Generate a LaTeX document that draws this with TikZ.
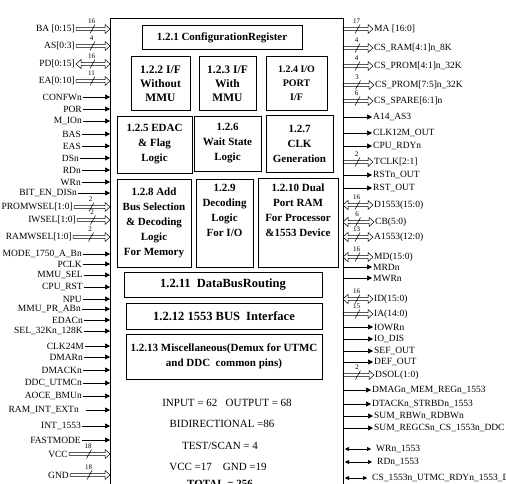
\documentclass[tikz,border=0pt]{standalone}
\usepackage{fontspec}
\setmainfont{Liberation Serif}
\usetikzlibrary{arrows.meta,calc}
\begin{document}
\begin{tikzpicture}[x=1pt,y=-1pt,
  lbl/.style={font=\fontsize{9.5}{10}\selectfont, inner sep=1pt, anchor=east},
  rlbl/.style={font=\fontsize{9.5}{10}\selectfont, inner sep=1pt, anchor=west},
  busnum/.style={font=\fontsize{7}{7}\selectfont, inner sep=0pt},
  sigarr/.style={line width=0.6pt, -{Triangle[length=5pt,width=5pt]}},
  bidarr/.style={line width=0.6pt, {Triangle[length=4pt,width=4pt]}-{Triangle[length=4pt,width=4pt]}},
  bus/.style={line width=0.5pt, to path={let \p1=(\tikztostart), \p2=(\tikztotarget) in
    (\x1,\y1+1.4pt) -- (\x2-5pt,\y1+1.4pt) -- (\x2-5pt,\y1+4.5pt) -- (\x2,\y1) -- (\x2-5pt,\y1-4.5pt) -- (\x2-5pt,\y1-1.4pt) -- (\x1,\y1-1.4pt) -- cycle
    (\x1/2+\x2/2-3pt,\y1-4.5pt) -- (\x1/2+\x2/2+2pt,\y1+4.5pt)
    (\x1/2+\x2/2-1.5pt,\y1+7.5pt) node[busnum]{#1}}},
  bbus/.style={line width=0.5pt, to path={let \p1=(\tikztostart), \p2=(\tikztotarget) in
    (\x1,\y1) -- (\x1+5pt,\y1+4.5pt) -- (\x1+5pt,\y1+1.4pt) -- (\x2-5pt,\y1+1.4pt) -- (\x2-5pt,\y1+4.5pt) -- (\x2,\y1) -- (\x2-5pt,\y1-4.5pt) -- (\x2-5pt,\y1-1.4pt) -- (\x1+5pt,\y1-1.4pt) -- (\x1+5pt,\y1-4.5pt) -- cycle
    (\x1/2+\x2/2-3pt,\y1-4.5pt) -- (\x1/2+\x2/2+2pt,\y1+4.5pt)
    (\x1/2+\x2/2-1.5pt,\y1+7.5pt) node[busnum]{#1}}},
  blk/.style={draw, line width=0.6pt, inner sep=0pt, outer sep=0pt, align=center, font=\bfseries\fontsize{11}{15}\selectfont},
  btxt/.style={inner sep=0pt, align=center, font=\bfseries\fontsize{11}{15}\selectfont},
  info/.style={font=\fontsize{11}{12}\selectfont, inner sep=0pt}
]
\useasboundingbox (0,0) rectangle (506,484);

% outer chip box
\node[draw, line width=0.8pt, inner sep=0pt, outer sep=0pt, minimum width=233pt, minimum height=520pt, anchor=north west] (chip) at (110,18) {};

% inner blocks
\node[blk, minimum width=160pt, minimum height=24pt] (b1) at (222,37.5) {1.2.1 ConfigurationRegister};
\node[blk, font=\bfseries\fontsize{11.5}{14}\selectfont, minimum width=59pt, minimum height=54pt] (b2) at (160.5,83.5) {1.2.2 I/F\\Without\\MMU};
\node[blk, font=\bfseries\fontsize{11.5}{14}\selectfont, minimum width=57pt, minimum height=54pt] (b3) at (227.5,83.5) {1.2.3 I/F\\With\\MMU};
\node[blk, font=\bfseries\fontsize{10}{14}\selectfont, minimum width=61pt, minimum height=54pt] (b4) at (296.5,83.5) {1.2.4 I/O\\PORT\\I/F};
\node[blk, line width=0.9pt, minimum width=75pt, minimum height=57pt] (b5) at (154.5,144.5) {1.2.5 EDAC\\\& Flag\\Logic};
\node[blk, minimum width=67pt, minimum height=55pt] (b6) at (227.5,143.5) {1.2.6\\Wait State\\Logic};
\node[blk, minimum width=67pt, minimum height=57pt] (b7) at (299.5,143.5) {1.2.7\\CLK\\Generation};
\node[blk, minimum width=74pt, minimum height=88pt] (b8) at (154,223) {1.2.8 Add\\Bus Selection\\\& Decoding\\Logic\\For Memory};
\node[blk, minimum width=57pt, minimum height=88pt] (b9) at (224.5,223) {};
\node[btxt, anchor=north] (t9) at (224.5,184) {1.2.9\\Decoding\\Logic\\For I/O};
\node[blk, minimum width=80pt, minimum height=89pt] (b10) at (298,222.5) {};
\node[btxt, anchor=north] (t10) at (298,184) {1.2.10 Dual\\Port RAM\\For Processor\\\&1553 Device};
\node[blk, font=\bfseries\fontsize{12.5}{15}\selectfont, minimum width=198pt, minimum height=25pt] (b11) at (223,284.5) {1.2.11\ \ DataBusRouting};
\node[blk, font=\bfseries\fontsize{12.5}{15}\selectfont, minimum width=196pt, minimum height=26pt] (b12) at (224,316) {1.2.12 1553 BUS\ \ Interface};
\node[blk, minimum width=196pt, minimum height=45pt] (b13) at (224,356.5) {1.2.13 Miscellaneous(Demux for UTMC\\and DDC\ \ common pins)};

% summary text
\node[info] (i1) at (227,403) {INPUT = 62\ \ \ OUTPUT = 68};
\node[info] (i2) at (222,424) {BIDIRECTIONAL =86};
\node[info] (i3) at (220,446) {TEST/SCAN = 4};
\node[info] (i4) at (218,467) {VCC =17\ \ \ \ GND =19};
\node[info, font=\bfseries\fontsize{11}{12}\selectfont] (i5) at (220,484) {TOTAL = 256};

% left signals
\node[lbl] (ba) at (76,29) {BA [0:15]};
\node[lbl] (as) at (76,46) {AS[0:3]};
\node[lbl] (pd) at (76,64) {PD[0:15]};
\node[lbl] (ea) at (76,81) {EA[0:10]};
\node[lbl] (confw) at (83,97) {CONFWn};
\node[lbl] (por) at (83,109) {POR};
\node[lbl] (mio) at (83,121) {M\_IOn};
\node[lbl] (bas) at (82,134) {BAS};
\node[lbl] (eas) at (82,146) {EAS};
\node[lbl] (dsn) at (80,158) {DSn};
\node[lbl] (rdn) at (82,170) {RDn};
\node[lbl] (wrn) at (82,182) {WRn};
\node[lbl] (biten) at (78,193) {BIT\_EN\_DISn};
\node[lbl] (promw) at (74,207) {PROMWSEL[1:0]};
\node[lbl] (iwsel) at (77,220) {IWSEL[1:0]};
\node[lbl] (ramw) at (73,237) {RAMWSEL[1:0]};
\node[lbl] (mode) at (83,254) {MODE\_1750\_A\_Bn};
\node[lbl] (pclk) at (83,264) {PCLK};
\node[lbl] (mmusel) at (84,275) {MMU\_SEL};
\node[lbl] (cpurst) at (84,287) {CPU\_RST};
\node[lbl] (npu) at (83,299) {NPU};
\node[lbl] (mmupr) at (82,309) {MMU\_PR\_ABn};
\node[lbl] (edac) at (84,320) {EDACn};
\node[lbl] (sel32) at (84,331) {SEL\_32Kn\_128K};
\node[lbl] (clk24) at (85,346) {CLK24M};
\node[lbl] (dmar) at (84,357) {DMARn};
\node[lbl] (dmack) at (83,370) {DMACKn};
\node[lbl] (ddc) at (83,383) {DDC\_UTMCn};
\node[lbl] (aoce) at (83,396) {AOCE\_BMUn};
\node[lbl] (ramint) at (80,410) {RAM\_INT\_EXTn};
\node[lbl] (int) at (82,426) {INT\_1553};
\node[lbl] (fast) at (82,440) {FASTMODE};
\node[lbl] (vcc) at (69,454) {VCC};
\node[lbl] (gnd) at (70,475) {GND};

\draw[bus=16] (ba.east) to (ba.east -| chip.west);
\draw[bus=4] (as.east) to (as.east -| chip.west);
\draw[bbus=16] (pd.east) to (pd.east -| chip.west);
\draw[bus=11] (ea.east) to (ea.east -| chip.west);
\foreach \s in {confw,por,mio,bas,eas,dsn,rdn,wrn,biten,mode,pclk,mmusel,cpurst,npu,mmupr,edac,sel32,clk24,dmar,dmack,ddc,aoce,int,fast}
  \draw[sigarr] (\s.east) -- (\s.east -| chip.west);
\draw[sigarr] ([xshift=6pt]ramint.east) -- (ramint.east -| chip.west);
\draw[bus=2] (promw.east) to (promw.east -| chip.west);
\draw[bus=2] (iwsel.east) to (iwsel.east -| chip.west);
\draw[bus=2] (ramw.east) to (ramw.east -| chip.west);
\draw[bus=18] (vcc.east) to (vcc.east -| chip.west);
\draw[bus=18] (gnd.east) to (gnd.east -| chip.west);

% right signals
\node[rlbl] (ma) at (373,29) {MA [16:0]};
\node[rlbl] (csram) at (373,48) {CS\_RAM[4:1]n\_8K};
\node[rlbl] (csp1) at (373,66) {CS\_PROM[4:1]n\_32K};
\node[rlbl] (csp2) at (374,85) {CS\_PROM[7:5]n\_32K};
\node[rlbl] (csspare) at (373,101) {CS\_SPARE[6:1]n};
\node[rlbl] (a14) at (372,117) {A14\_AS3};
\node[rlbl] (clk12) at (372,133) {CLK12M\_OUT};
\node[rlbl] (cpurdy) at (372,146) {CPU\_RDYn};
\node[rlbl] (tclk) at (373,162) {TCLK[2:1]};
\node[rlbl] (rstn) at (372,175) {RSTn\_OUT};
\node[rlbl] (rst) at (372,188) {RST\_OUT};
\node[rlbl] (d1553) at (373,205) {D1553(15:0)};
\node[rlbl] (cb) at (374,222) {CB(5:0)};
\node[rlbl] (a1553) at (373,237) {A1553(12:0)};
\node[rlbl] (md) at (373,257) {MD(15:0)};
\node[rlbl] (mrdn) at (372,267) {MRDn};
\node[rlbl] (mwrn) at (372,278) {MWRn};
\node[rlbl] (id) at (373,299) {ID(15:0)};
\node[rlbl] (ia) at (373,314) {IA(14:0)};
\node[rlbl] (iowr) at (373,327) {IOWRn};
\node[rlbl] (iodis) at (373,339) {IO\_DIS};
\node[rlbl] (sef) at (373,351) {SEF\_OUT};
\node[rlbl] (def) at (373,362) {DEF\_OUT};
\node[rlbl] (dsol) at (374,375) {DSOL(1:0)};
\node[rlbl] (dmag) at (371,390) {DMAGn\_MEM\_REGn\_1553};
\node[rlbl] (dtack) at (371,404) {DTACKn\_STRBDn\_1553};
\node[rlbl] (sumr) at (373,416) {SUM\_RBWn\_RDBWn};
\node[rlbl] (sumreg) at (373,428) {SUM\_REGCSn\_CS\_1553n\_DDC};
\node[rlbl] (wr1553) at (375,449) {WRn\_1553};
\node[rlbl] (rd1553) at (376,462) {RDn\_1553};
\node[rlbl] (cs1553) at (371,478) {CS\_1553n\_UTMC\_RDYn\_1553\_DDC};

\draw[bus=17] (ma.west -| chip.east) to (ma.west);
\draw[bus=4] (csram.west -| chip.east) to (csram.west);
\draw[bus=4] (csp1.west -| chip.east) to (csp1.west);
\draw[bus=3] (csp2.west -| chip.east) to (csp2.west);
\draw[bus=6] (csspare.west -| chip.east) to (csspare.west);
\draw[bus=2] (tclk.west -| chip.east) to (tclk.west);
\draw[bbus=16] (d1553.west -| chip.east) to (d1553.west);
\draw[bbus=6] (cb.west -| chip.east) to (cb.west);
\draw[bbus=13] (a1553.west -| chip.east) to (a1553.west);
\draw[bbus=16] (md.west -| chip.east) to (md.west);
\draw[bbus=16] (id.west -| chip.east) to (id.west);
\draw[bus=15] (ia.west -| chip.east) to (ia.west);
\draw[bus=2] (dsol.west -| chip.east) to (dsol.west);
\foreach \s in {a14,clk12,cpurdy,rstn,rst,mrdn,mwrn,iowr,iodis,sef,def,dmag,dtack,sumr,sumreg}
  \draw[sigarr] (\s.west -| chip.east) -- (\s.west);
\foreach \s in {wr1553,rd1553,cs1553}
  \draw[bidarr, shorten <=2pt, shorten >=4pt] (\s.west -| chip.east) -- (\s.west);
\end{tikzpicture}
\end{document}
